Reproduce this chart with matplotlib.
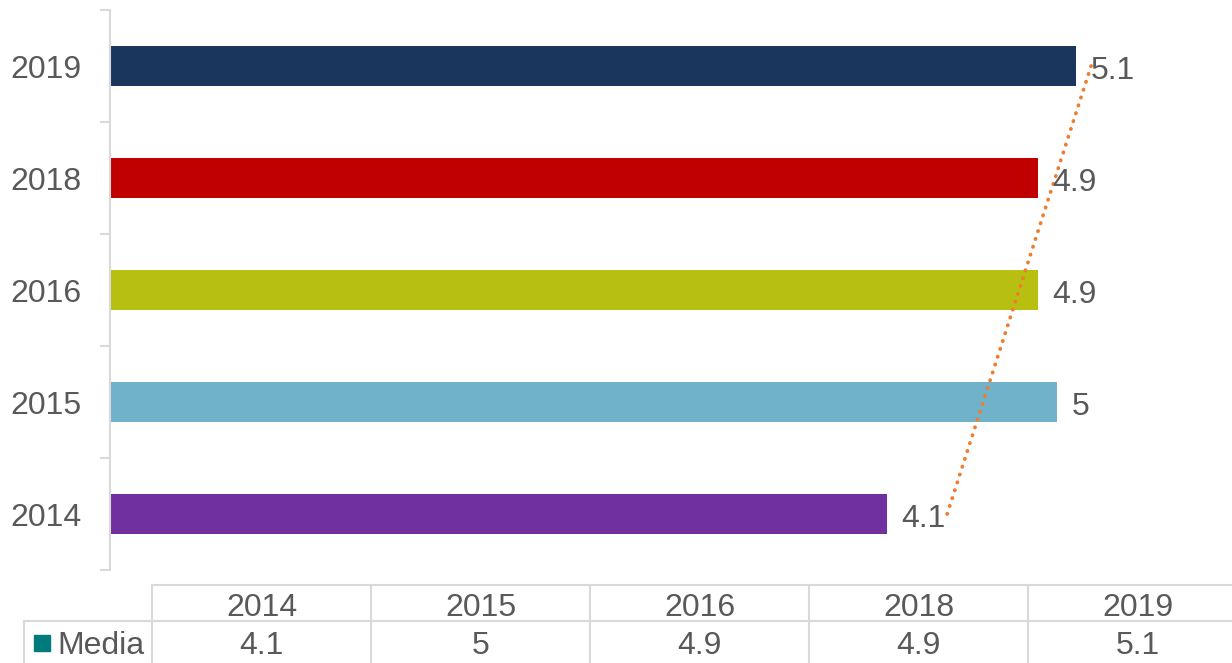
import matplotlib
matplotlib.use("Agg")
import matplotlib.pyplot as plt
import numpy as np
from matplotlib.lines import Line2D
from matplotlib.patches import Rectangle

categories = ["2014", "2015", "2016", "2018", "2019"]
values = [4.1, 5.0, 4.9, 4.9, 5.1]
value_labels = ["4.1", "5", "4.9", "4.9", "5.1"]
bar_colors = ["#7030A0", "#70B2C9", "#B7BF10", "#C00000", "#1B365D"]
series_name = "Media"
series_color = "#007A7A"

TEXT = "#595959"
GRID = "#D9D9D9"
FONT = "Liberation Sans"
FS = 23

W, H = 1232, 663
fig = plt.figure(figsize=(W / 100, H / 100), dpi=100)

def fx(px):
    return px / W

def fy(py):
    return 1 - py / H

left, right, top, bottom = 110, 1232, 10, 570
ax = fig.add_axes([fx(left), fy(bottom), fx(right - left), (bottom - top) / H])

y = np.arange(len(categories))
ax.barh(y, values, height=0.357, color=bar_colors, zorder=2)
ax.set_ylim(-0.5, len(categories) - 0.5)
ax.set_xlim(0, (right - left) / 189.4)

# linear trendline
coef = np.polyfit(y, values, 1)
ax.plot(np.polyval(coef, y), y, color="#ED7D31", lw=2.7,
        linestyle=(0, (0.1, 2.1)), dash_capstyle="round", zorder=3)

for yi, v, lab in zip(y, values, value_labels):
    ax.annotate(lab, (v, yi), xytext=(10.5, -1), textcoords="offset points",
                ha="left", va="center_baseline", fontsize=FS, color=TEXT,
                family=FONT, zorder=4)

for s in ["top", "right", "bottom"]:
    ax.spines[s].set_visible(False)
ax.spines["left"].set_color(GRID)
ax.spines["left"].set_linewidth(1.5)
ax.set_xticks([])
ax.set_yticks(y)
ax.set_yticklabels(categories, fontsize=FS, color=TEXT, family=FONT)
ax.tick_params(axis="y", which="major", length=0, pad=20.5)
ax.set_yticks(np.arange(-0.5, len(categories), 1.0), minor=True)
ax.tick_params(axis="y", which="minor", length=7.2, width=1.5, color=GRID)

# data table
lw = 1.5
col_x = [152 + 219 * i for i in range(len(categories) + 1)]
lines = [
    ((152, W), (585, 585)),
    ((24, W), (621, 621)),
    ((24, 24), (621, H)),
]
for cx in col_x[:-1]:
    lines.append(((cx, cx), (585, H)))
for xs, ys in lines:
    fig.add_artist(Line2D([fx(xs[0]), fx(xs[1])], [fy(ys[0]), fy(ys[1])],
                          color=GRID, lw=lw, transform=fig.transFigure))

for i, (cat, lab) in enumerate(zip(categories, value_labels)):
    cx = (col_x[i] + 109.5)
    fig.text(fx(cx), fy(604), cat, ha="center", va="center_baseline", fontsize=FS,
             color=TEXT, family=FONT)
    fig.text(fx(cx), fy(643), lab, ha="center", va="center_baseline", fontsize=FS,
             color=TEXT, family=FONT)

fig.add_artist(Rectangle((fx(34), fy(651)), fx(16), 16 / H, color=series_color,
                         transform=fig.transFigure))
fig.text(fx(57), fy(643), series_name, ha="left", va="center_baseline", fontsize=FS,
         color=TEXT, family=FONT)

fig.savefig("out.png", dpi=100)
